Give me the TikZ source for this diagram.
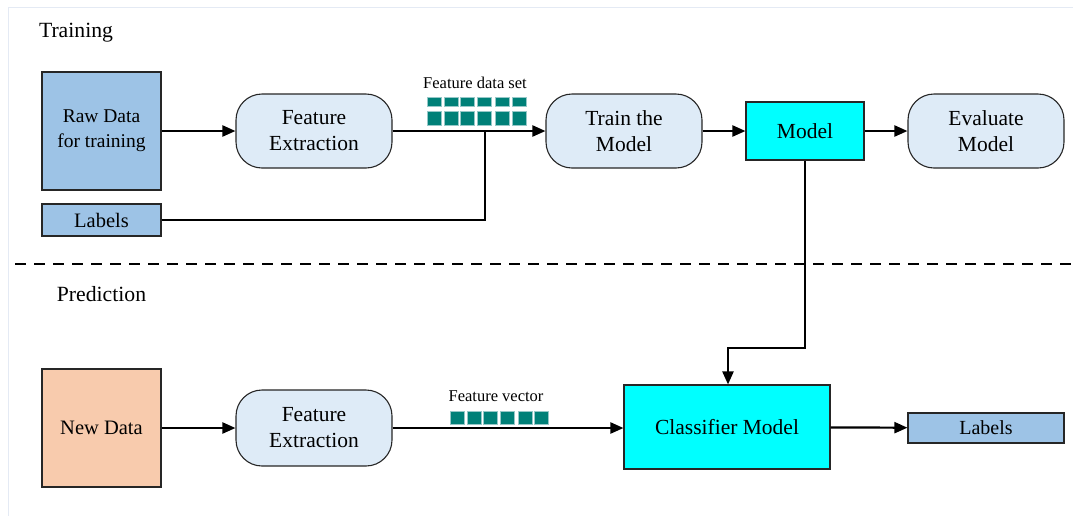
\documentclass[tikz,border=0pt]{standalone}
\usepackage{fontspec}
\setmainfont{Liberation Serif}
\usetikzlibrary{arrows.meta}

\definecolor{rawblue}{RGB}{157,195,230}
\definecolor{stageblue}{RGB}{222,235,247}
\definecolor{newpeach}{RGB}{248,203,173}
\definecolor{modelcyan}{RGB}{0,255,255}
\definecolor{cellteal}{RGB}{0,128,120}
\definecolor{cellrim}{RGB}{150,200,200}
\definecolor{framegray}{RGB}{228,234,244}

\newcommand{\boxfont}{\fontsize{21.5}{26}\selectfont}
\newcommand{\inputfont}{\fontsize{19.5}{25}\selectfont}
\newcommand{\partfont}{\fontsize{21.7}{25}\selectfont}
\newcommand{\tagfont}{\fontsize{16.5}{19}\selectfont}

\tikzset{every picture/.style={line width=0.75pt}}
\tikzset{
  databox/.style={draw=black!85, line width=1.1pt, fill=rawblue, align=center, font=\inputfont, inner sep=0pt, minimum width=119pt},
  stagebox/.style={draw=black!85, line width=1.1pt, fill=stageblue, rounded corners=26pt, minimum width=156pt, minimum height=74pt, align=center, font=\boxfont, inner sep=0pt},
  modelbox/.style={draw=black!85, line width=1.1pt, fill=modelcyan, align=center, font=\boxfont, inner sep=0pt},
  flow/.style={line width=2.2pt, -{Triangle[length=13pt,width=11pt]}},
  cell/.style={draw=cellrim, fill=cellteal, line width=0.7pt}
}

\begin{document}
\begin{tikzpicture}[x=1pt,y=1pt,yscale=-1,xscale=1]
	\useasboundingbox (0,0) rectangle (1073,515);
	%Shape: Frame
	\draw [framegray, line width=1pt] (8,7) rectangle (1090,530);

	% Text Node
	\node (training) [font=\partfont] at (76,32.5) {Training};
	\node (prediction) [font=\partfont] at (101.5,294) {Prediction};

	%Shape: Training row
	\node (rawdata) [databox, minimum height=118pt] at (101.5,131) {Raw Data\\for training};
	\node (labelsin) [databox, minimum height=32pt, font=\fontsize{20.5}{24}\selectfont] at (101.5,220) {Labels};
	\node (featext) [stagebox] at (314,131) {Feature\\Extraction};
	\node (train) [stagebox] at (624,131) {Train the\\Model};
	\node (model) [modelbox, minimum width=118pt, minimum height=58pt] at (805,131) {Model};
	\node (evalmodel) [stagebox] at (986,131) {Evaluate\\Model};

	% Text Node
	\node (datasettag) [font=\tagfont] at (475,83) {Feature data set};
	\foreach \cx in {427,444,460,477,495,512} {
		\draw [cell] (\cx,97.5) rectangle ++(14,9);
		\draw [cell] (\cx,111) rectangle ++(14,14);
	}

	%Straight Lines
	\coordinate (join) at (485,131);
	\draw [flow] (rawdata) -- (featext);
	\draw [flow] (featext) -- (train);
	\draw [line width=2.2pt] (labelsin.east) -| (join);
	\draw [flow] (train) -- (model);
	\draw [flow] (model) -- (evalmodel);

	%Dashed divider
	\coordinate (divl) at (15,264);
	\coordinate (divr) at (1073,264);
	\draw [line width=2pt, dash pattern=on 11pt off 8pt] (divl) -- (divr);

	%Shape: Prediction row
	\node (newdata) [databox, fill=newpeach, minimum height=118pt, font=\fontsize{20.5}{24}\selectfont] at (101.5,428) {New Data};
	\node (featextnew) [stagebox, minimum height=76pt] at (314,428) {Feature\\Extraction};
	\node (classifier) [modelbox, minimum width=206pt, minimum height=84pt] at (727,427) {Classifier Model};
	\node (labelsout) [databox, minimum width=156pt, minimum height=30pt, font=\fontsize{20}{24}\selectfont] at (986,428) {Labels};

	% Text Node
	\node (vectortag) [font=\tagfont] at (496,396) {Feature vector};
	\foreach \cx in {450,467,483,500,518,534} {
		\draw [cell] (\cx,411.5) rectangle ++(14,12.5);
	}

	%Straight Lines
	\coordinate (bend) at (728,348);
	\draw [flow] (model.south) |- (bend) -- (bend |- classifier.north);
	\draw [flow] (newdata) -- (featextnew);
	\draw [flow] (featextnew.east) -- (featextnew.east -| classifier.west);
	\draw [flow] (classifier) -- (labelsout);

\end{tikzpicture}
\end{document}
